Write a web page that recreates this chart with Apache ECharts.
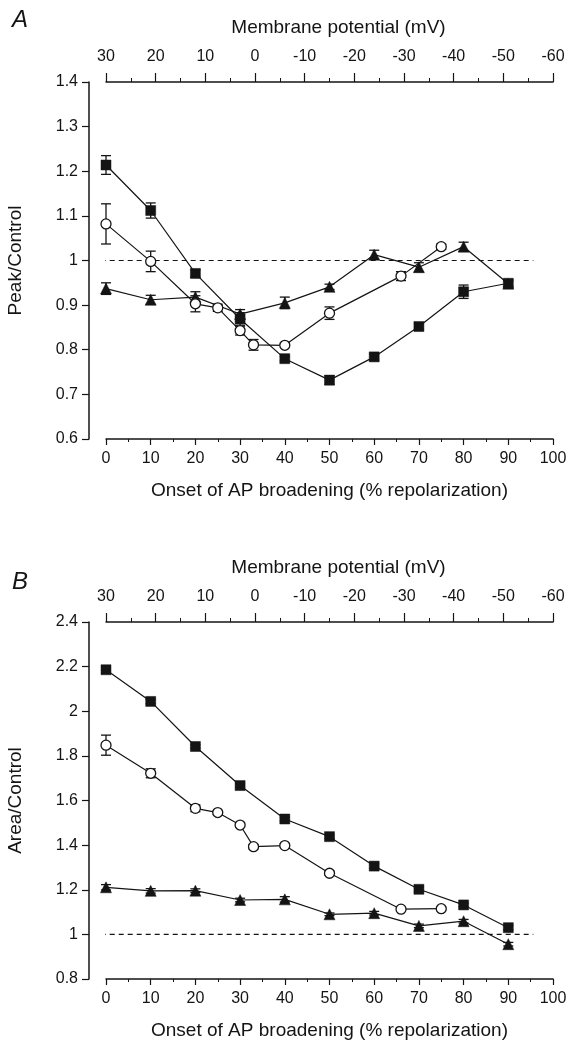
<!DOCTYPE html>
<html>
<head>
<meta charset="utf-8">
<script src="https://cdn.jsdelivr.net/npm/echarts@6/dist/echarts.min.js"></script>
<style>
  html, body { margin: 0; padding: 0; background: #fff; }
  #chart { width: 569px; height: 1045px; }
</style>
</head>
<body>
<div id="chart"></div>
<script>
// onset of AP broadening (% repolarization) for each symbol group
const xSquare = [0, 10, 20, 30, 40, 50, 60, 70, 80, 90];
const xCircle = [0, 10, 20, 25, 30, 33, 40, 50, 66, 75];
const xTriangle = [0, 10, 20, 30, 40, 50, 60, 70, 80, 90];

// panel A: Peak/Control
const peakSquare = [1.214, 1.112, 0.971, 0.869, 0.780, 0.732, 0.784, 0.852, 0.930, 0.949];
const peakSquareErr = [0.021, 0.017, 0.008, 0.014, 0.005, 0.010, 0.007, 0.007, 0.015, 0.008];
const peakCircle = [1.082, 0.998, 0.903, 0.894, 0.843, 0.811, 0.810, 0.882, 0.965, 1.031];
const peakCircleErr = [0.045, 0.023, 0.018, 0.008, 0.010, 0.012, 0.005, 0.014, 0.010, 0.006];
const peakTriangle = [0.937, 0.912, 0.918, 0.880, 0.905, 0.941, 1.013, 0.985, 1.031, 0.948];
const peakTriangleErr = [0.013, 0.010, 0.012, 0.010, 0.013, 0.006, 0.010, 0.010, 0.010, 0.006];

// panel B: Area/Control
const areaSquare = [2.186, 2.044, 1.842, 1.667, 1.517, 1.438, 1.306, 1.202, 1.132, 1.030];
const areaSquareErr = [0.012, 0.010, 0.008, 0.008, 0.008, 0.008, 0.010, 0.010, 0.008, 0.010];
const areaCircle = [1.848, 1.722, 1.565, 1.546, 1.490, 1.393, 1.398, 1.274, 1.113, 1.115];
const areaCircleErr = [0.045, 0.020, 0.015, 0.008, 0.010, 0.010, 0.008, 0.010, 0.008, 0.006];
const areaTriangle = [1.211, 1.195, 1.196, 1.154, 1.157, 1.090, 1.095, 1.038, 1.059, 0.956];
const areaTriangleErr = [0.012, 0.010, 0.008, 0.008, 0.012, 0.006, 0.008, 0.008, 0.008, 0.008];

// dashed control level (ratio = 1)
const refLevel = 1;
const refLineX = [-3.2, 95.6];

const FONT = '"Liberation Sans", Arial, Helvetica, sans-serif';
const INK = '#141414';
const TITLE_SIZE = 19;
const TICK_SIZE = 16;

const chart = echarts.init(document.getElementById('chart'), null, { renderer: 'canvas' });

function bottomAxis(gridIndex) {
  return {
    type: 'value', gridIndex: gridIndex, position: 'bottom',
    min: 0, max: 100, interval: 10,
    name: 'Onset of AP broadening (% repolarization)',
    nameLocation: 'middle', nameGap: 42,
    nameTextStyle: { fontFamily: FONT, fontSize: TITLE_SIZE, color: INK },
    axisLine: { show: true, onZero: false, lineStyle: { color: INK, width: 1.5 } },
    axisTick: { show: true, inside: false, length: 6, lineStyle: { color: INK, width: 1.2 } },
    minorTick: { show: true, splitNumber: 2, length: 3, lineStyle: { color: INK, width: 1 } },
    axisLabel: { margin: 12, fontFamily: FONT, fontSize: TICK_SIZE, color: INK },
    splitLine: { show: false }
  };
}

function topAxis(gridIndex) {
  return {
    type: 'value', gridIndex: gridIndex, position: 'top',
    min: -60, max: 30, interval: 10, inverse: true,
    name: 'Membrane potential (mV)',
    nameLocation: 'middle', nameGap: 45,
    nameTextStyle: { fontFamily: FONT, fontSize: TITLE_SIZE, color: INK, padding: [0, 0, 0, 18] },
    axisLine: { show: true, onZero: false, lineStyle: { color: INK, width: 1.5 } },
    axisTick: { show: true, inside: false, length: 9, lineStyle: { color: INK, width: 1.2 } },
    minorTick: { show: true, splitNumber: 2, length: 4, lineStyle: { color: INK, width: 1 } },
    axisLabel: { margin: 17, fontFamily: FONT, fontSize: TICK_SIZE, color: INK },
    splitLine: { show: false }
  };
}

function leftAxis(gridIndex, name, min, max, interval) {
  return {
    type: 'value', gridIndex: gridIndex, position: 'left', offset: 17,
    min: min, max: max, interval: interval,
    name: name, nameLocation: 'middle', nameGap: 64,
    nameTextStyle: { fontFamily: FONT, fontSize: TITLE_SIZE, color: INK },
    axisLine: { show: true, onZero: false, lineStyle: { color: INK, width: 1.5 } },
    axisTick: { show: true, inside: false, length: 7, lineStyle: { color: INK, width: 1.2 } },
    axisLabel: { margin: 11, fontFamily: FONT, fontSize: TICK_SIZE, color: INK },
    splitLine: { show: false }
  };
}

function errorBars(xs, ys, errs, axisIndex) {
  return {
    type: 'custom', xAxisIndex: axisIndex * 2, yAxisIndex: axisIndex,
    silent: true, z: 1,
    encode: { x: 0, y: [1, 2] },
    data: xs.map((x, i) => [x, ys[i] - errs[i], ys[i] + errs[i]]),
    renderItem: function (params, api) {
      const lo = api.coord([api.value(0), api.value(1)]);
      const hi = api.coord([api.value(0), api.value(2)]);
      const w = 5;
      const style = { stroke: INK, lineWidth: 1.3 };
      return {
        type: 'group',
        children: [
          { type: 'line', shape: { x1: lo[0], y1: lo[1], x2: hi[0], y2: hi[1] }, style: style },
          { type: 'line', shape: { x1: lo[0] - w, y1: lo[1], x2: lo[0] + w, y2: lo[1] }, style: style },
          { type: 'line', shape: { x1: hi[0] - w, y1: hi[1], x2: hi[0] + w, y2: hi[1] }, style: style }
        ]
      };
    }
  };
}

const markers = {
  square: { symbol: 'rect', symbolSize: 10, itemStyle: { color: INK, borderColor: INK, borderWidth: 0.5 } },
  circle: { symbol: 'circle', symbolSize: 10, itemStyle: { color: '#fff', borderColor: INK, borderWidth: 1.3 } },
  triangle: { symbol: 'triangle', symbolSize: 11, itemStyle: { color: INK, borderColor: INK, borderWidth: 0.5 } }
};

function dataLine(xs, ys, kind, axisIndex) {
  return Object.assign({
    type: 'line', xAxisIndex: axisIndex * 2, yAxisIndex: axisIndex,
    data: xs.map((x, i) => [x, ys[i]]),
    showSymbol: true, z: 3,
    lineStyle: { color: INK, width: 1.2 }
  }, markers[kind]);
}

function refLine(axisIndex) {
  return {
    type: 'line', xAxisIndex: axisIndex * 2, yAxisIndex: axisIndex,
    data: refLineX.map(x => [x, refLevel]),
    showSymbol: false, symbol: 'none', clip: false, z: 0, silent: true,
    lineStyle: { color: INK, width: 1.2, type: [5, 4] }
  };
}

chart.setOption({
  animation: false,
  backgroundColor: '#fff',
  grid: [
    { left: 106, right: 16, top: 82, height: 357, outerBoundsMode: 'none', containLabel: false },
    { left: 106, right: 16, top: 622, height: 357, outerBoundsMode: 'none', containLabel: false }
  ],
  xAxis: [bottomAxis(0), topAxis(0), bottomAxis(1), topAxis(1)],
  yAxis: [
    leftAxis(0, 'Peak/Control', 0.6, 1.4, 0.1),
    leftAxis(1, 'Area/Control', 0.8, 2.4, 0.2)
  ],
  graphic: [
    { type: 'text', left: 12, top: 8, style: { text: 'A', font: 'italic 24px ' + FONT, fill: INK } },
    { type: 'text', left: 12, top: 570, style: { text: 'B', font: 'italic 24px ' + FONT, fill: INK } }
  ],
  series: [
    refLine(0),
    errorBars(xSquare, peakSquare, peakSquareErr, 0),
    errorBars(xCircle, peakCircle, peakCircleErr, 0),
    errorBars(xTriangle, peakTriangle, peakTriangleErr, 0),
    dataLine(xTriangle, peakTriangle, 'triangle', 0),
    dataLine(xCircle, peakCircle, 'circle', 0),
    dataLine(xSquare, peakSquare, 'square', 0),

    refLine(1),
    errorBars(xSquare, areaSquare, areaSquareErr, 1),
    errorBars(xCircle, areaCircle, areaCircleErr, 1),
    errorBars(xTriangle, areaTriangle, areaTriangleErr, 1),
    dataLine(xTriangle, areaTriangle, 'triangle', 1),
    dataLine(xCircle, areaCircle, 'circle', 1),
    dataLine(xSquare, areaSquare, 'square', 1)
  ]
});
</script>
</body>
</html>
